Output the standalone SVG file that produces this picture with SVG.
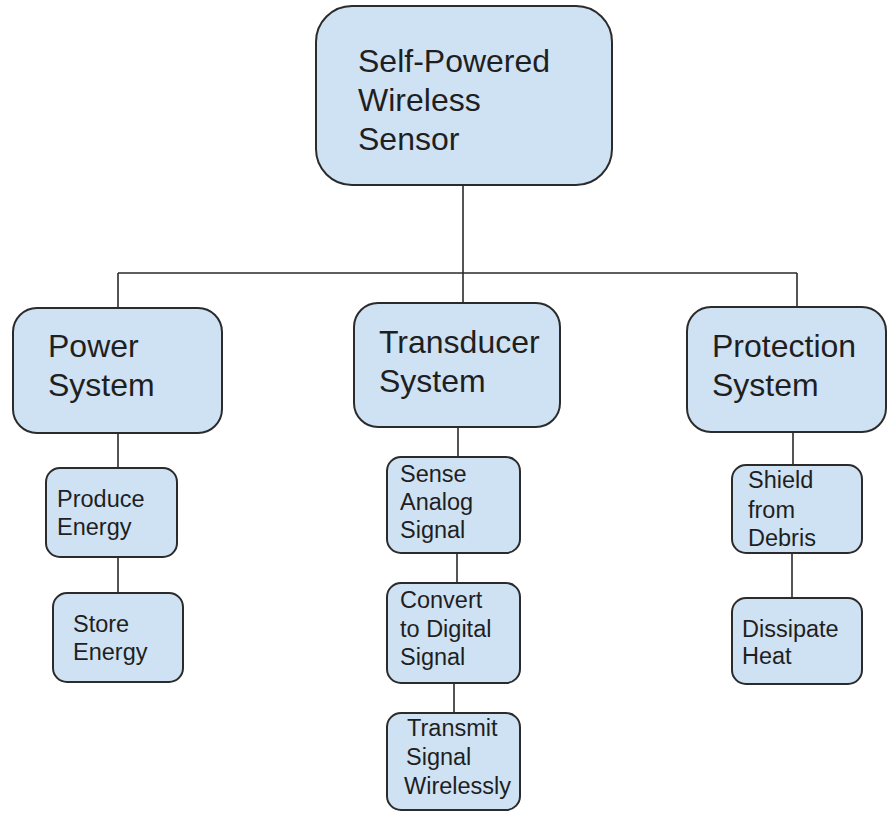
<svg xmlns="http://www.w3.org/2000/svg" width="888" height="813" viewBox="0 0 888 813">
<style>
.box{fill:#cfe2f3;stroke:#2b2b2b;stroke-width:2}
.t{font-family:"Liberation Sans",Arial,sans-serif;fill:#1f1f1f}
.big{font-size:32px}
.sm{font-size:23.5px}
.c{fill:none;stroke:#2b2b2b;stroke-width:1.6}
</style>
<rect width="888" height="813" fill="#ffffff"/>
<g id="connectors">
<path class="c" d="M463 185 V308 M118 273 H797 M118 273 V308 M797 273 V307"/>
<path class="c" d="M118 433 V468 M118 557 V593"/>
<path class="c" d="M458 427 V457 M457 553 V583 M454 683 V713"/>
<path class="c" d="M793 432 V465 M792 553 V598"/>
</g>
<g id="root">
<rect class="box" x="316" y="6" width="296" height="179" rx="36"/>
<text class="t big" x="358" y="72" font-size="33">Self-Powered</text>
<text class="t big" x="358" y="111" font-size="33">Wireless</text>
<text class="t big" x="358" y="150" font-size="33">Sensor</text>
</g>
<g id="power">
<rect class="box" x="13" y="308" width="209" height="125" rx="24"/>
<text class="t big" x="48" y="357">Power</text>
<text class="t big" x="48" y="396">System</text>
</g>
<g id="transducer">
<rect class="box" x="354" y="303" width="206" height="124" rx="24"/>
<text class="t big" x="379" y="353">Transducer</text>
<text class="t big" x="379" y="392">System</text>
</g>
<g id="protection">
<rect class="box" x="687" y="307" width="199" height="125" rx="24"/>
<text class="t big" x="712" y="357">Protection</text>
<text class="t big" x="712" y="396">System</text>
</g>
<g id="produce">
<rect class="box" x="46" y="468" width="131" height="89" rx="14"/>
<text class="t sm" x="57" y="507">Produce</text>
<text class="t sm" x="57" y="535">Energy</text>
</g>
<g id="store">
<rect class="box" x="53" y="593" width="130" height="89" rx="14"/>
<text class="t sm" x="73" y="632">Store</text>
<text class="t sm" x="73" y="660">Energy</text>
</g>
<g id="sense">
<rect class="box" x="387" y="457" width="133" height="96" rx="14"/>
<text class="t sm" x="400" y="482">Sense</text>
<text class="t sm" x="400" y="510">Analog</text>
<text class="t sm" x="400" y="538">Signal</text>
</g>
<g id="convert">
<rect class="box" x="387" y="583" width="133" height="100" rx="14"/>
<text class="t sm" x="400" y="608">Convert</text>
<text class="t sm" x="400" y="637">to Digital</text>
<text class="t sm" x="400" y="665">Signal</text>
</g>
<g id="transmit">
<rect class="box" x="387" y="713" width="133" height="97" rx="14"/>
<text class="t sm" x="407" y="736">Transmit</text>
<text class="t sm" x="406" y="765">Signal</text>
<text class="t sm" x="404" y="794">Wirelessly</text>
</g>
<g id="shield">
<rect class="box" x="732" y="465" width="130" height="88" rx="14"/>
<text class="t sm" x="748" y="488">Shield</text>
<text class="t sm" x="748" y="518">from</text>
<text class="t sm" x="748" y="546">Debris</text>
</g>
<g id="dissipate">
<rect class="box" x="732" y="598" width="130" height="86" rx="14"/>
<text class="t sm" x="742" y="637">Dissipate</text>
<text class="t sm" x="742" y="664">Heat</text>
</g>
</svg>
